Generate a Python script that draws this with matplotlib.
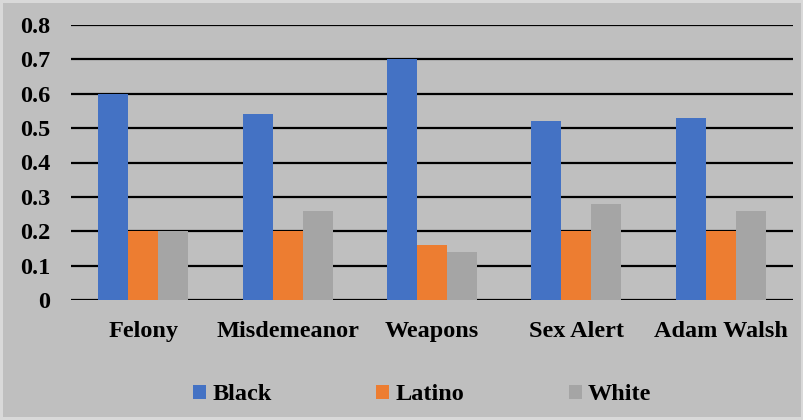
import matplotlib.pyplot as plt
import numpy as np
from matplotlib.patches import Patch

categories = ["Felony", "Misdemeanor", "Weapons", "Sex Alert", "Adam Walsh"]
black = [0.60, 0.54, 0.70, 0.52, 0.53]
latino = [0.20, 0.20, 0.16, 0.20, 0.20]
white = [0.20, 0.26, 0.14, 0.28, 0.26]
series_names = ["Black", "Latino", "White"]
colors = ["#4472C4", "#ED7D31", "#A5A5A5"]
yticks = [0, 0.1, 0.2, 0.3, 0.4, 0.5, 0.6, 0.7, 0.8]
ytick_labels = ["0", "0.1", "0.2", "0.3", "0.4", "0.5", "0.6", "0.7", "0.8"]

plt.rcParams['font.family'] = ['Liberation Serif', 'DejaVu Serif']
plt.rcParams['font.weight'] = 'bold'

bg = "#BFBFBF"
fig = plt.figure(figsize=(8.04, 4.2), dpi=100, facecolor=bg,
                 edgecolor="#D9D9D9", linewidth=3)
ax = fig.add_axes([71 / 804, 120 / 420, 722 / 804, 275 / 420])
ax.set_facecolor(bg)

x = np.arange(len(categories))
w = 0.208
for i, (vals, c) in enumerate(zip([black, latino, white], colors)):
    ax.bar(x + (i - 1) * w, vals, width=w, color=c, zorder=3)

ax.set_xlim(-0.5, len(categories) - 0.5)
ax.set_ylim(0, 0.8)
ax.set_yticks(yticks)
ax.set_yticklabels(ytick_labels)
ax.set_xticks(x)
ax.set_xticklabels(categories)
ax.grid(axis='y', color='black', linewidth=1.6, zorder=1)
for s in ax.spines.values():
    s.set_visible(False)
ax.tick_params(axis='both', length=0, labelsize=17.5)
ax.tick_params(axis='y', pad=15)
ax.tick_params(axis='x', pad=15)
for lab in ax.get_xticklabels() + ax.get_yticklabels():
    lab.set_fontweight('bold')

handles = [Patch(facecolor=c, edgecolor='none') for c in colors]
fig.legend(handles, series_names, loc='center', bbox_to_anchor=(0.525, 25 / 420),
           ncol=3, frameon=False, handlelength=0.55, handleheight=0.55,
           handletextpad=0.25, columnspacing=4.3, prop={'weight': 'bold', 'size': 17.5})

fig.savefig("out.png", dpi=100, facecolor=bg, edgecolor="#D9D9D9")
